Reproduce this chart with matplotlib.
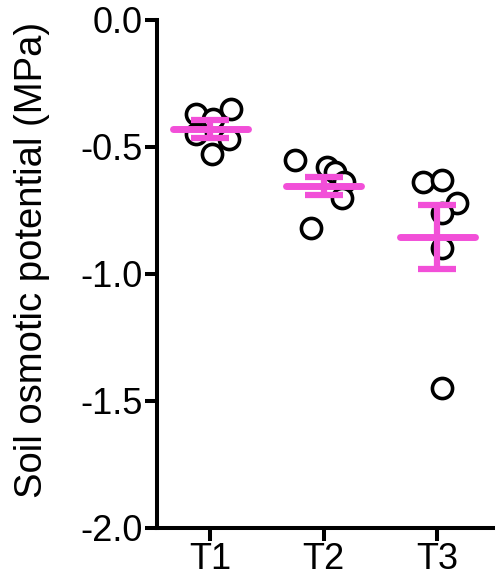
import matplotlib
matplotlib.use("Agg")
import matplotlib.pyplot as plt
import numpy as np

plt.rcParams['font.family'] = ['Liberation Sans', 'DejaVu Sans']

categories = ["T1", "T2", "T3"]
t1_values = [-0.37, -0.35, -0.39, -0.45, -0.47, -0.53]
t2_values = [-0.55, -0.58, -0.60, -0.64, -0.70, -0.82]
t3_values = [-0.64, -0.63, -0.72, -0.76, -0.90, -1.45]
t1_jitter = [-0.12, 0.18, 0.03, -0.12, 0.17, 0.02]
t2_jitter = [-0.25, 0.03, 0.10, 0.18, 0.16, -0.11]
t3_jitter = [-0.13, 0.04, 0.17, 0.04, 0.04, 0.04]
means = [-0.43, -0.655, -0.855]
errors = [0.035, 0.035, 0.125]
yticks = [0.0, -0.5, -1.0, -1.5, -2.0]

pink = '#F24FD8'
fig = plt.figure(figsize=(5.0, 5.84), dpi=100)
ax = fig.add_axes([0.314, 0.096, 0.672, 0.870])

groups = [t1_values, t2_values, t3_values]
jitters = [t1_jitter, t2_jitter, t3_jitter]
for i, (vals, jit) in enumerate(zip(groups, jitters)):
    x = np.array(jit) + i + 1
    ax.plot(x, vals, linestyle='none', marker='o', markersize=14.5,
            markerfacecolor='white', markeredgecolor='black',
            markeredgewidth=2.6, zorder=2, clip_on=False)

xs = np.arange(1, len(categories) + 1)
ax.errorbar(xs, means, yerr=errors, fmt='none', ecolor=pink, elinewidth=4.5,
            capsize=14, capthick=4.5, zorder=3)
for x, m in zip(xs, means):
    ax.plot([x - 0.33, x + 0.33], [m, m], color=pink, linewidth=5,
            solid_capstyle='round', zorder=4)

ax.set_xlim(0.533, 3.49)
ax.set_ylim(-2.0, 0.0)
ax.set_yticks(yticks)
ax.set_yticklabels([f"{v:.1f}" for v in yticks])
ax.set_xticks(xs)
ax.set_xticklabels(categories)
ax.spines['top'].set_visible(False)
ax.spines['right'].set_visible(False)
for s in ['left', 'bottom']:
    ax.spines[s].set_linewidth(2.9)
ax.tick_params(axis='both', width=2.9, length=9, labelsize=26, pad=1)
ax.set_ylabel("Soil osmotic potential (MPa)", fontsize=27.5, labelpad=4)
ax.yaxis.set_label_coords(-0.318, 0.528)

fig.savefig("out.png", dpi=100)
